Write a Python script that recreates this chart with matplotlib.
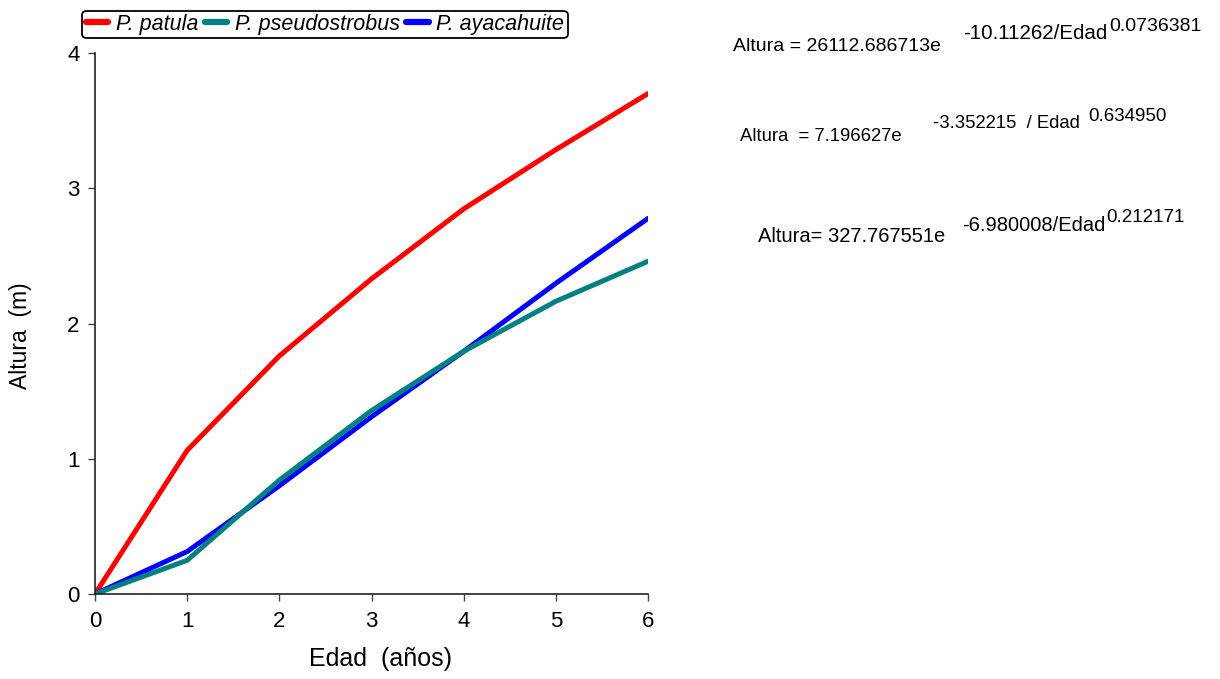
import matplotlib
matplotlib.use("Agg")
import matplotlib.pyplot as plt

plt.rcParams["font.family"] = ["Liberation Sans", "DejaVu Sans"]

# ---- Data ----
edad = [0, 1, 2, 3, 4, 5, 6]
patula = [0, 1.062, 1.76, 2.33, 2.847, 3.285, 3.70]
pseudostrobus = [0, 0.249, 0.842, 1.356, 1.794, 2.164, 2.46]
ayacahuite = [0, 0.314, 0.80, 1.31, 1.794, 2.297, 2.777]

series_names = ["P. patula", "P. pseudostrobus", "P. ayacahuite"]
series_colors = ["#ff0000", "#008080", "#0000ff"]

W, H = 1220, 679
fig = plt.figure(figsize=(W / 100, H / 100), dpi=100)
ax = fig.add_axes([95 / W, 1 - 594 / H, (648 - 95) / W, (594 - 53) / H])

lw = 3.6
h_pat, = ax.plot(edad, patula, color=series_colors[0], lw=lw, solid_capstyle="round",
                 label=series_names[0])
h_aya, = ax.plot(edad, ayacahuite, color=series_colors[2], lw=lw, solid_capstyle="round",
                 label=series_names[2])
h_pse, = ax.plot(edad, pseudostrobus, color=series_colors[1], lw=lw, solid_capstyle="round",
                 label=series_names[1])

ax.set_xlim(0, 6)
ax.set_ylim(0, 4)
ax.set_xticks(range(0, 7))
ax.set_yticks(range(0, 5))
for s in ["top", "right"]:
    ax.spines[s].set_visible(False)
for s in ["left", "bottom"]:
    ax.spines[s].set_color("#222222")
    ax.spines[s].set_linewidth(1.2)
ax.tick_params(axis="both", direction="out", length=5, width=1, labelsize=16,
               colors="#444444", labelcolor="black")
ax.tick_params(axis="x", pad=7)
ax.tick_params(axis="y", pad=6)

ax.set_xlabel("Edad  (años)", fontsize=18)
ax.xaxis.set_label_coords((380 - 95) / 553, (594 - 647) / 541)
ax.set_ylabel("Altura  (m)", fontsize=16.5)
ax.yaxis.set_label_coords((32 - 95) / 553, (594 - 336) / 541)

# legend above the axes
leg = fig.legend([h_pat, h_pse, h_aya], series_names,
                 loc="center", bbox_to_anchor=(325 / W, 1 - 24.5 / H), ncol=3,
                 frameon=True, fancybox=True, edgecolor="black", framealpha=1,
                 handlelength=1.05, handletextpad=0.35, columnspacing=0.3,
                 borderpad=0.15, borderaxespad=0,
                 prop={"style": "italic", "size": 15.5})
leg.get_frame().set_linewidth(1.3)
for line in leg.get_lines():
    line.set_linewidth(4.5)
    line.set_solid_capstyle("round")


# fitted equations (pieces placed by pixel, baseline)
def px(x, y, s, size):
    fig.text(x / W, 1 - y / H, s, fontsize=size, ha="left", va="baseline")


px(733, 51, "Altura = 26112.686713e", 14)
px(963, 39, "-10.11262/Edad", 14.8)
px(1109, 31, "0.0736381", 14)

px(740, 141, "Altura  = 7.196627e", 13.3)
px(933, 128, "-3.352215  / Edad", 13.3)
px(1088, 121, "0.634950", 13.5)

px(758, 242, "Altura= 327.767551", 14.5)
px(933, 242, "e", 14.5)
px(962, 231, "-6.980008/Edad", 14.5)
px(1106, 222, "0.212171", 13.5)

fig.savefig("out.png", dpi=100)
